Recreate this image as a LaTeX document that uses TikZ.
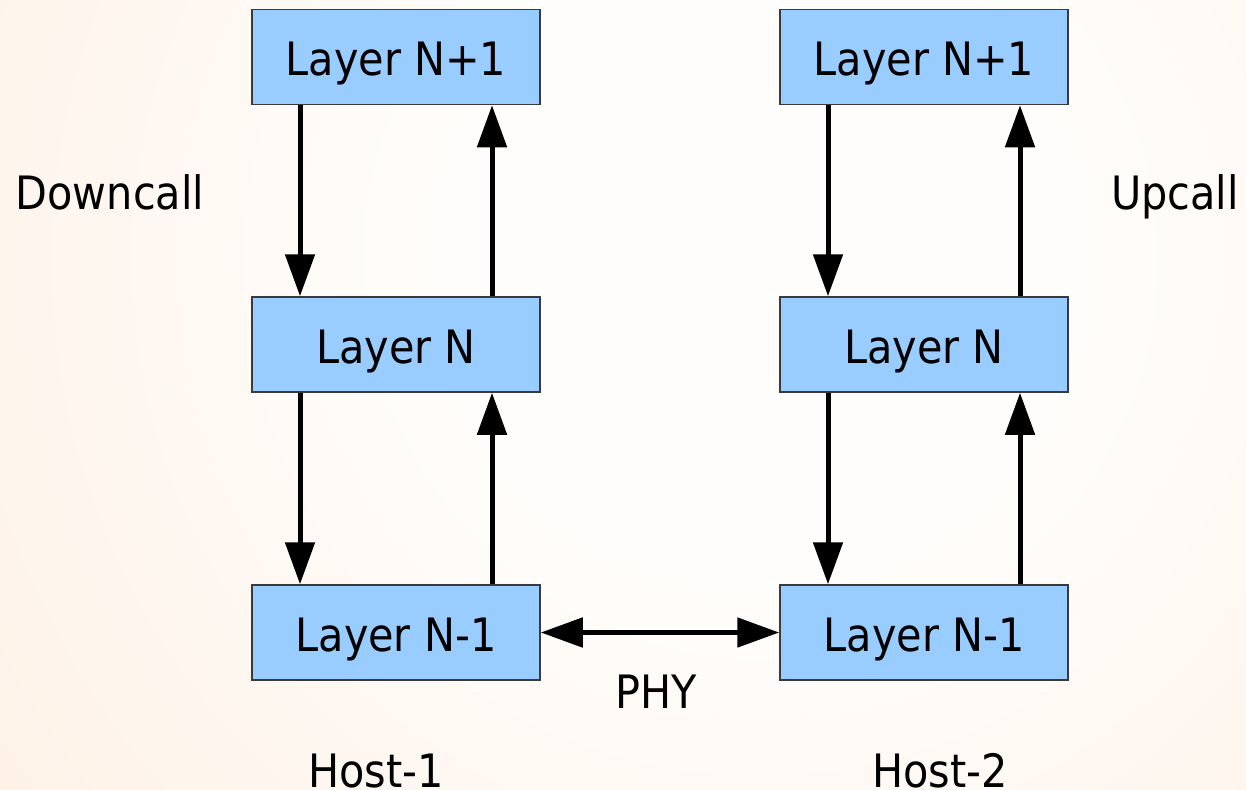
\documentclass[tikz,border=0pt]{standalone}
\usepackage{fontspec}
\setmainfont{DejaVu Sans Condensed}
\usetikzlibrary{arrows.meta}

\definecolor{layerfill}{HTML}{99CCFF}
\definecolor{layerline}{HTML}{3A3A3A}
\definecolor{bgcentre}{HTML}{FFFDFB}
\definecolor{bgmid}{HTML}{FEF3E9}
\definecolor{bgedge}{HTML}{FADBC0}

% soft glow, light towards the upper right and warmer towards the edges
\pgfdeclareradialshading{bgglow}{\pgfpoint{0bp}{0bp}}{%
  color(0bp)=(bgcentre); color(8bp)=(bgcentre); color(22bp)=(bgmid);
  color(45bp)=(bgedge); color(50bp)=(bgedge)}

\tikzset{
  layer/.style={draw=layerline, line width=1.5pt, fill=layerfill,
    minimum width=288pt, minimum height=95pt, inner sep=0pt,
    font=\fontsize{46}{50}\selectfont, text height=37.5pt, text depth=0pt},
  label/.style={font=\fontsize{46}{50}\selectfont, inner sep=0pt,
    text height=37.5pt, text depth=0pt},
  call/.style={line width=5pt, -{Triangle[length=42pt,width=29pt]}},
  link/.style={line width=5pt, {Triangle[length=42pt,width=29pt]}-{Triangle[length=42pt,width=29pt]}},
}

\begin{document}
\begin{tikzpicture}[x=1pt,y=-1pt]
  % page and background
  \useasboundingbox (0,0) rectangle (1246,789);
  \begin{scope}
    \clip (0,0) rectangle (1246,789);
    \shade[shading=bgglow] (-240,-740) rectangle (1760,1260);
  \end{scope}

  % host 1 stack
  \node[layer] (a1) at (396,57)  {Layer N+1};
  \node[layer] (a2) at (396,344.5) {Layer N};
  \node[layer] (a3) at (396,632.5) {Layer N-1};

  % host 2 stack
  \node[layer] (b1) at (924,57)  {Layer N+1};
  \node[layer] (b2) at (924,344.5) {Layer N};
  \node[layer] (b3) at (924,632.5) {Layer N-1};

  % downcalls and upcalls
  \draw[call] ([xshift=-96pt]a1.south) -- ([xshift=-96pt]a2.north);
  \draw[call] ([xshift=96pt]a2.north) -- ([xshift=96pt]a1.south);
  \draw[call] ([xshift=-96pt]a2.south) -- ([xshift=-96pt]a3.north);
  \draw[call] ([xshift=96pt]a3.north) -- ([xshift=96pt]a2.south);

  \draw[call] ([xshift=-96pt]b1.south) -- ([xshift=-96pt]b2.north);
  \draw[call] ([xshift=96pt]b2.north) -- ([xshift=96pt]b1.south);
  \draw[call] ([xshift=-96pt]b2.south) -- ([xshift=-96pt]b3.north);
  \draw[call] ([xshift=96pt]b3.north) -- ([xshift=96pt]b2.south);

  % physical link between the hosts
  \draw[link] (a3.east) -- (b3.west);

  % labels
  \node[label] (down) at (110,191) {Downcall};
  \node[label] (up)   at (1175,191) {Upcall};
  \node[label] (phy)  at (656,690) {PHY};
  \node[label] (h1)   at (376,769) {Host-1};
  \node[label] (h2)   at (940,769) {Host-2};
\end{tikzpicture}
\end{document}
